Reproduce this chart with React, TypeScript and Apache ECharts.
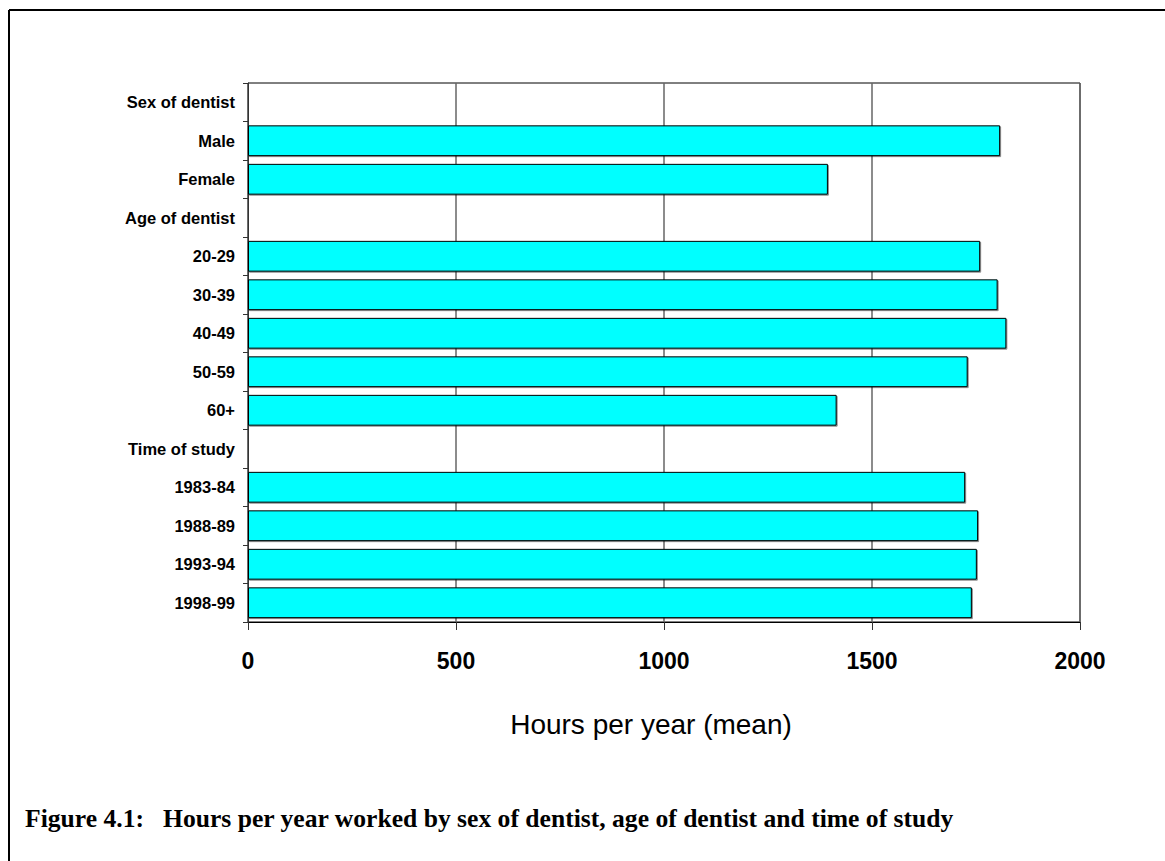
import React, { useEffect, useRef } from "react";
import * as echarts from "echarts";

const categories = [
  "Sex of dentist",
  "Male",
  "Female",
  "Age of dentist",
  "20-29",
  "30-39",
  "40-49",
  "50-59",
  "60+",
  "Time of study",
  "1983-84",
  "1988-89",
  "1993-94",
  "1998-99",
];

const hours: (number | null)[] = [
  null, 1808, 1394,
  null, 1760, 1802, 1823, 1730, 1415,
  null, 1724, 1755, 1752, 1740,
];

const xMin = 0;
const xMax = 2000;
const xInterval = 500;
const xAxisName = "Hours per year (mean)";
const captionLabel = "Figure 4.1:";
const captionText = "Hours per year worked by sex of dentist, age of dentist and time of study";

export default function App() {
  const ref = useRef<HTMLDivElement>(null);
  useEffect(() => {
    document.body.style.margin = "0";
    if (!ref.current) return;
    const chart = echarts.init(ref.current, null, { renderer: "svg" });
    const sans = "'Liberation Sans', Arial, sans-serif";
    const serif = "'Liberation Serif', 'Times New Roman', serif";
    chart.setOption({
      animation: false,
      backgroundColor: "#fff",
      grid: {
        left: 248,
        top: 83,
        width: 832,
        height: 539,
        show: true,
        borderColor: "#000",
        borderWidth: 1,
        backgroundColor: "transparent",
      },
      xAxis: {
        type: "value",
        min: xMin,
        max: xMax,
        interval: xInterval,
        name: xAxisName,
        nameLocation: "middle",
        nameGap: 88,
        nameTextStyle: {
          fontFamily: sans,
          fontSize: 28,
          color: "#000",
          padding: [0, 26, 0, 0],
        },
        axisLine: { show: true, lineStyle: { color: "#000", width: 1 } },
        axisTick: { show: true, length: 8, lineStyle: { color: "#333" } },
        axisLabel: {
          margin: 27,
          fontFamily: sans,
          fontSize: 23,
          fontWeight: "bold",
          color: "#000",
          formatter: (v: number) => String(v),
        },
        splitLine: { show: true, lineStyle: { color: "#666", width: 1.5 } },
      },
      yAxis: {
        type: "category",
        data: categories,
        inverse: true,
        axisLine: { show: true, lineStyle: { color: "#333", width: 1 } },
        axisTick: { show: true, length: 5, lineStyle: { color: "#333" } },
        axisLabel: {
          margin: 13,
          fontFamily: sans,
          fontSize: 16.5,
          fontWeight: "bold",
          color: "#000",
        },
        splitLine: { show: false },
      },
      series: [
        {
          type: "bar",
          data: hours,
          barCategoryGap: "20%",
          itemStyle: {
            color: "#00FFFF",
            borderColor: "#000",
            borderWidth: 1,
            shadowColor: "rgba(0,0,0,0.45)",
            shadowOffsetX: 1,
            shadowOffsetY: 1,
            shadowBlur: 0,
          },
        },
      ],
      graphic: [
        {
          type: "line",
          shape: { x1: 9, y1: 10, x2: 1165, y2: 10 },
          style: { stroke: "#000", lineWidth: 2 },
        },
        {
          type: "line",
          shape: { x1: 9, y1: 10, x2: 9, y2: 861 },
          style: { stroke: "#000", lineWidth: 2 },
        },
        {
          type: "text",
          x: 25,
          y: 818,
          style: {
            text: captionLabel,
            fontFamily: serif,
            fontSize: 25.6,
            fontWeight: "bold",
            fill: "#000",
            verticalAlign: "middle",
          },
        },
        {
          type: "text",
          x: 163,
          y: 818,
          style: {
            text: captionText,
            fontFamily: serif,
            fontSize: 25.6,
            fontWeight: "bold",
            fill: "#000",
            verticalAlign: "middle",
          },
        },
      ],
    });
    return () => chart.dispose();
  }, []);
  return <div ref={ref} style={{ width: 1165, height: 861 }} />;
}
